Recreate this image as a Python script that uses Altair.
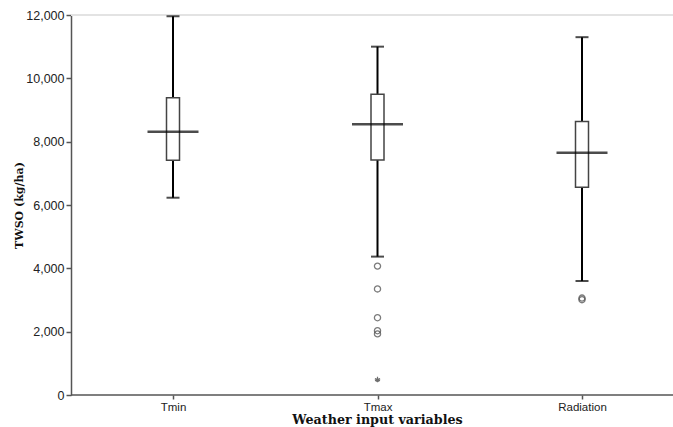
import altair as alt
import pandas as pd

variables = ["Tmin", "Tmax", "Radiation"]
lower_whisker = [6230, 4370, 3600]
q1 = [7410, 7420, 6560]
median = [8310, 8550, 7650]
q3 = [9390, 9500, 8640]
upper_whisker = [11960, 11000, 11300]

outlier_var = ["Tmax", "Tmax", "Tmax", "Tmax", "Tmax", "Radiation", "Radiation"]
outlier_val = [4070, 3350, 2440, 2030, 1930, 3060, 3010]

extreme_var = ["Tmax"]
extreme_val = [490]

summary = pd.DataFrame({
    "var": variables, "lower": lower_whisker, "q1": q1,
    "median": median, "q3": q3, "upper": upper_whisker,
})
outliers = pd.DataFrame({"var": outlier_var, "value": outlier_val})
extremes = pd.DataFrame({"var": extreme_var, "value": extreme_val})

label_font = "Liberation Sans"
title_font = "DejaVu Serif"

x_enc = alt.X(
    "var:N",
    sort=variables,
    scale=alt.Scale(type="point", domain=variables, range=[102, 511], padding=0),
    axis=alt.Axis(
        title="Weather input variables", labelAngle=0, labelFont=label_font,
        labelFontSize=11.5, labelColor="#222", titleFont=title_font,
        titleFontSize=12.7, titleFontWeight="bold", titleColor="#111",
        domain=False, tickColor="#555", tickWidth=1.5,
        tickSize=4, labelPadding=2, titlePadding=1, titleX=306,
    ),
)
y_scale = alt.Scale(domain=[0, 12000], nice=False)
y_axis = alt.Axis(
    title="TWSO (kg/ha)", values=[0, 2000, 4000, 6000, 8000, 10000, 12000],
    format=",.0f", labelFont=label_font, labelFontSize=12.5, labelColor="#222",
    titleFont=title_font, titleFontSize=11, titleFontWeight="bold",
    titleColor="#111", domainColor="#555", domainWidth=1.5, tickColor="#555",
    tickWidth=1.5, tickSize=5, grid=False, labelPadding=2, titlePadding=1,
)

base = alt.Chart(summary)

whisker = base.mark_rule(color="#000", strokeWidth=2).encode(
    x=x_enc,
    y=alt.Y("lower:Q", scale=y_scale, axis=y_axis),
    y2="upper:Q",
)
top_line = base.mark_rule(color="#e3e3e3", strokeWidth=2).encode(
    y=alt.datum(12000, scale=y_scale, axis=y_axis)
).transform_filter(alt.datum.var == "Tmin")
bottom_line = base.mark_rule(color="#555", strokeWidth=1.5).encode(
    y=alt.datum(0, scale=y_scale, axis=y_axis)
).transform_filter(alt.datum.var == "Tmin")
cap_low = base.mark_tick(color="#000", size=13, thickness=2).encode(
    x=x_enc, y=alt.Y("lower:Q", scale=y_scale, axis=y_axis)
)
cap_high = base.mark_tick(color="#000", size=13, thickness=2).encode(
    x=x_enc, y=alt.Y("upper:Q", scale=y_scale, axis=y_axis)
)
box = base.mark_bar(size=13, fill="white", stroke="#444", strokeWidth=1.5).encode(
    x=x_enc, y=alt.Y("q1:Q", scale=y_scale, axis=y_axis), y2="q3:Q"
)
med = base.mark_tick(color="#000", size=51, thickness=2.5).encode(
    x=x_enc, y=alt.Y("median:Q", scale=y_scale, axis=y_axis)
)
outl = alt.Chart(outliers).mark_point(
    shape="circle", filled=False, size=38, stroke="#444", strokeWidth=1.3
).encode(x=x_enc, y=alt.Y("value:Q", scale=y_scale, axis=y_axis))
ext = alt.Chart(extremes).mark_point(
    shape="M0,-1L0,1M-0.95,-0.31L0.95,0.31M-0.95,0.31L0.95,-0.31M-0.59,0.81L0,0L0.59,0.81",
    filled=False, size=30, stroke="#333", strokeWidth=1.2,
).encode(x=x_enc, y=alt.Y("value:Q", scale=y_scale, axis=y_axis))

chart = alt.layer(whisker, top_line, bottom_line, box, cap_low, cap_high, med, outl, ext).properties(
    width=602, height=380,
    autosize=alt.AutoSizeParams(type="none"),
    padding={"left": 71, "top": 15, "right": 0, "bottom": 32},
    background="white",
).configure_view(stroke=None)

chart.save("out.html", embed_options={"renderer": "svg", "actions": False})
